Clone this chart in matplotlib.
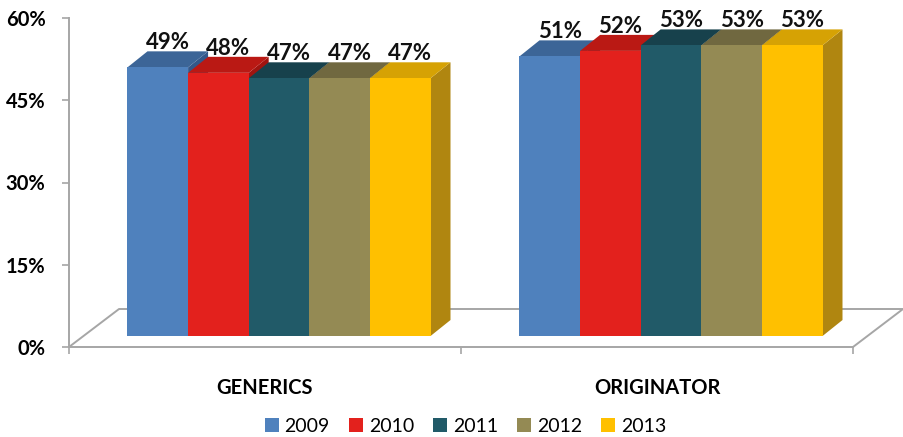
import numpy as np
import matplotlib.pyplot as plt
from matplotlib.patches import Polygon, Patch

plt.rcParams['font.family'] = ['Lato', 'DejaVu Sans']

categories = ['GENERICS', 'ORIGINATOR']
years = ['2009', '2010', '2011', '2012', '2013']
generics = [49, 48, 47, 47, 47]
originator = [51, 52, 53, 53, 53]
yticks = [0, 15, 30, 45, 60]

# face colours per year: front, top (darker), right side (darkest)
front_colors = ['#4F81BD', '#E3211D', '#215A68', '#948A54', '#FFC000']
top_colors = ['#3C6597', '#BA1914', '#17414C', '#706840', '#D6A204']
side_colors = ['#34588A', '#A01410', '#123640', '#5F5834', '#B08610']

# fake 3d geometry, all in data units (x: category, y: percent)
bar_w = 0.1546
floor_dx, floor_dy = 0.1276, 6.93     # depth of the floor
shift_dx, shift_dy = 0.0357, 2.0      # bars sit a bit back on the floor
depth_dx, depth_dy = 0.051, 2.92      # depth of each bar
grey = '#A6A6A6'


def draw_bar(ax, x, h, i):
	""" Draws one column as front, top and side faces """
	y0 = shift_dy
	x = x + shift_dx
	front = [(x, y0), (x + bar_w, y0), (x + bar_w, y0 + h), (x, y0 + h)]
	top = [(x, y0 + h), (x + bar_w, y0 + h),
		   (x + bar_w + depth_dx, y0 + h + depth_dy), (x + depth_dx, y0 + h + depth_dy)]
	side = [(x + bar_w, y0), (x + bar_w + depth_dx, y0 + depth_dy),
			(x + bar_w + depth_dx, y0 + h + depth_dy), (x + bar_w, y0 + h)]
	ax.add_patch(Polygon(side, closed=True, fc=side_colors[i], ec='none', clip_on=False, zorder=3))
	ax.add_patch(Polygon(top, closed=True, fc=top_colors[i], ec='none', clip_on=False, zorder=3))
	ax.add_patch(Polygon(front, closed=True, fc=front_colors[i], ec='none', clip_on=False, zorder=3))

	# value label above the top face
	ax.text(x + bar_w / 2 + depth_dx / 2, y0 + h + depth_dy + 0.4, '%d%%' % h,
			ha='center', va='baseline', fontsize=16, fontweight='bold',
			color='#111111', zorder=5, clip_on=False)


fig = plt.figure(figsize=(9.04, 4.37), dpi=100)
ax = fig.add_axes([69 / 904, 90 / 437, 784 / 904, 329 / 437])
ax.set_xlim(-0.5, 1.5)
ax.set_ylim(0, 60)

# floor outline (front edge is the bottom spine)
fx0, fx1 = -0.5, 1.5
ax.plot([fx0, fx0 + floor_dx, fx1 + floor_dx, fx1], [0, floor_dy, floor_dy, 0],
		color=grey, lw=1.4, clip_on=False, zorder=1)

series = np.array([generics, originator])
for c in range(len(categories)):
	left = c - len(years) * bar_w / 2
	for i in range(len(years)):
		draw_bar(ax, left + i * bar_w, series[c, i], i)

# axes styling
for s in ['top', 'right']:
	ax.spines[s].set_visible(False)
for s in ['left', 'bottom']:
	ax.spines[s].set_color(grey)
	ax.spines[s].set_linewidth(1.4)
	ax.spines[s].set_zorder(2)

ax.set_yticks(yticks)
ax.set_yticklabels(['%d%%' % v for v in yticks], fontsize=14.5, fontweight='bold')
ax.tick_params(axis='y', length=5, width=1.2, color=grey, pad=12)

ax.set_xticks(range(len(categories)))
ax.set_xticklabels(categories, fontsize=14.5, fontweight='bold')
ax.set_xticks([-0.5, 0.5, 1.5], minor=True)
ax.tick_params(axis='x', which='major', length=0, pad=22)
ax.tick_params(axis='x', which='minor', length=5, width=1.2, color=grey)

handles = [Patch(fc=front_colors[i], ec='none') for i in range(len(years))]
fig.legend(handles, years, loc='center', bbox_to_anchor=(0.515, 0.025), ncol=5,
		   frameon=False, fontsize=14, handlelength=0.7, handleheight=0.7,
		   handletextpad=0.3, columnspacing=1.0)

fig.savefig('out.png', dpi=100)
